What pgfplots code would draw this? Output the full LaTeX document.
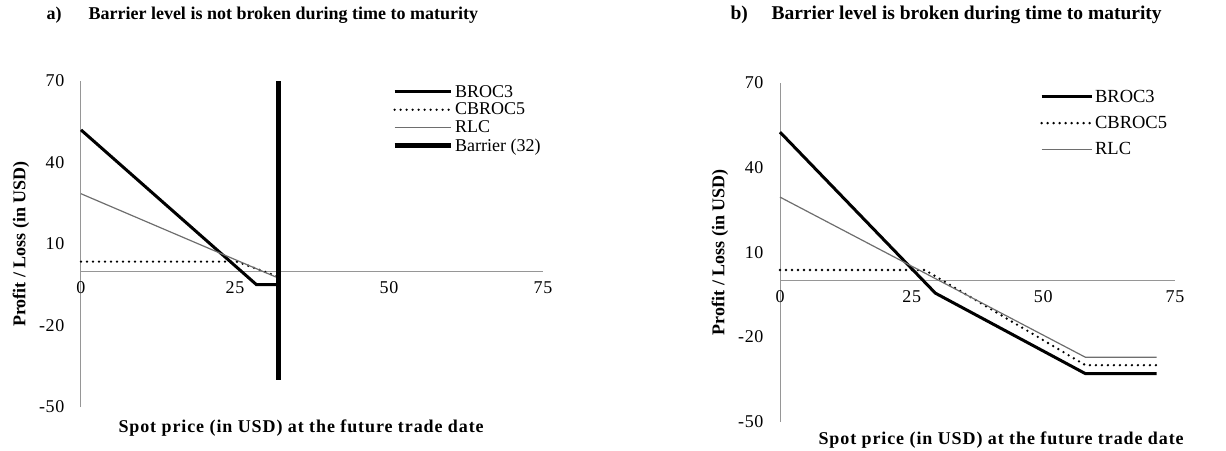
\documentclass[border=0pt]{standalone}
\usepackage{fontspec}
\setmainfont{Liberation Serif}
\usepackage{pgfplots}
\pgfplotsset{compat=1.18}
\definecolor{rlc}{RGB}{110,110,110}
\definecolor{axl}{RGB}{150,150,150}
\pgfplotsset{
  myaxis/.style={
    scale only axis,
    anchor=south west,
    xmin=0, xmax=75, ymin=-50, ymax=70,
    axis x line=middle, axis y line=left,
    hide obscured x ticks=false, hide obscured y ticks=false,
    axis line style={-, draw=axl, line width=1pt},
    every inner x axis line/.append style={-},
    every outer y axis line/.append style={-},
    major tick length=0pt,
    xtick={0,25,50,75}, xticklabels={0,25,50,75},
    ytick={-50,-20,10,40,70}, yticklabels={-50,-20,10,40,70},
    ticklabel style={font=\fontsize{18}{18}\selectfont\addfontfeature{LetterSpace=4}},
    xticklabel style={anchor=north, yshift=-7pt},
    yticklabel style={anchor=east, xshift=-13pt},
    clip=false,
    legend cell align=left,
    xlabel={Spot price (in USD) at the future trade date},
    ylabel={Profit / Loss (in USD)},
    xlabel style={font=\fontsize{18}{18}\bfseries\selectfont\addfontfeature{LetterSpace=5}, anchor=west},
    ylabel style={font=\fontsize{18}{18}\bfseries\selectfont, anchor=center},
  },
  broc/.style={black, line width=3pt},
  cbroc/.style={black, line width=2.6pt, dash pattern=on 0pt off 6pt, line cap=round},
  rlcs/.style={rlc, line width=1.2pt},
}
\begin{document}
\begin{tikzpicture}
\path[use as bounding box] (0pt,0pt) rectangle (1226pt,450pt);
% titles
\node[anchor=west, font=\fontsize{18}{18}\bfseries\selectfont] at (43pt,435pt) {a)};
\node[anchor=west, font=\fontsize{18}{18}\bfseries\selectfont] at (85pt,435pt) {Barrier level is not broken during time to maturity};
\node[anchor=west, font=\fontsize{19.5}{19.5}\bfseries\selectfont] at (727pt,435pt) {b)};
\node[anchor=west, font=\fontsize{19.5}{19.5}\bfseries\selectfont] at (768pt,435pt) {Barrier level is broken during time to maturity};

\begin{axis}[myaxis,
  at={(81pt,43pt)}, width=462pt, height=326pt,
  xlabel style={at={(axis description cs:0.0736,-0.064)}},
  ylabel style={at={(axis description cs:-0.13,0.5)}},
  legend style={draw=none, fill=none, at={(axis description cs:0.673,0.994)}, anchor=north west,
    font=\fontsize{18}{18}\selectfont, row sep=0.5pt, inner sep=0pt},
  legend image code/.code={\draw (0pt,0pt) -- (56pt,0pt);},
]
\addplot[broc] coordinates {(0,52) (28.5,-5) (32,-5)};
\addlegendentry{BROC3}
\addplot[cbroc] coordinates {(0,3.5) (25.3,3.5) (32,-2)};
\addlegendentry{CBROC5}
\addplot[rlcs] coordinates {(0,28.5) (32,-2.5)};
\addlegendentry{RLC}
\addplot[black, line width=5pt] coordinates {(32,-40) (32,70)};
\addlegendentry{Barrier (32)}
\end{axis}

\begin{axis}[myaxis,
  at={(780pt,28.3pt)}, width=395pt, height=339pt,
  xlabel style={at={(axis description cs:0.0886,-0.054)}},
  ylabel style={at={(axis description cs:-0.152,0.5)}},
  legend style={draw=none, fill=none, at={(axis description cs:0.658,0.985)}, anchor=north west,
    font=\fontsize{18.5}{18.5}\selectfont, row sep=8.5pt, inner sep=0pt},
  legend image code/.code={\draw (0pt,0pt) -- (50pt,0pt);},
]
\addplot[broc] coordinates {(0,52.5) (29.5,-4.5) (58,-33) (71.5,-33)};
\addlegendentry{BROC3}
\addplot[cbroc] coordinates {(0,3.7) (27.5,3.7) (58,-30) (71.5,-30)};
\addlegendentry{CBROC5}
\addplot[rlcs] coordinates {(0,29.5) (58,-27.2) (71.5,-27.2)};
\addlegendentry{RLC}
\end{axis}
\end{tikzpicture}
\end{document}
